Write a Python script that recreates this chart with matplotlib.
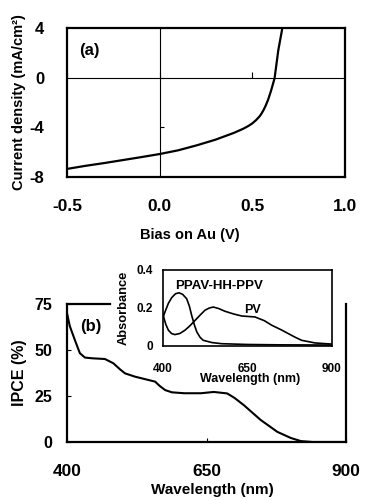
import matplotlib
matplotlib.use("Agg")
import matplotlib.pyplot as plt

plt.rcParams['font.family'] = ['Liberation Sans', 'DejaVu Sans']
plt.rcParams['font.weight'] = 'bold'
plt.rcParams['axes.unicode_minus'] = False

# ---- panel (a): J-V curve ----
jv_bias = [-0.5, -0.4, -0.3, -0.2, -0.1, 0.0, 0.1, 0.2, 0.3, 0.4, 0.45, 0.48, 0.5,
           0.52, 0.54, 0.55, 0.56, 0.57, 0.585, 0.6, 0.62, 0.64, 0.662]
jv_current = [-7.35, -7.1, -6.88, -6.64, -6.4, -6.15, -5.85, -5.45, -5.0, -4.45,
              -4.12, -3.88, -3.68, -3.42, -3.1, -2.88, -2.62, -2.32, -1.78, -1.1,
              -0.05, 2.2, 4.0]
a_xticks = [-0.5, 0.0, 0.5, 1.0]
a_xticklabels = ['-0.5', '0.0', '0.5', '1.0']
a_yticks = [-8, -4, 0, 4]
a_yticklabels = ['-8', '-4', '0', '4']

# ---- panel (b): IPCE ----
ipce_wl = [400, 405, 414, 423, 432, 445, 468, 483, 495, 504, 522, 546, 558, 566,
           576, 588, 610, 640, 663, 687, 700, 717, 747, 777, 801, 819, 840, 900]
ipce_val = [70, 63, 55.5, 48.3, 45.9, 45.5, 45.1, 42.8, 39.5, 37.3, 35.5, 33.7, 32.8,
            30.5, 28.2, 27, 26.5, 26.5, 27.2, 26.4, 24, 20, 12, 5.5, 2.2, 0.5, 0, 0]
b_xticks = [400, 650, 900]
b_yticks = [0, 25, 50, 75]

# ---- inset: absorbance ----
ppav_wl = [400, 406, 416, 426, 437, 447, 458, 470, 478, 485, 493, 500, 510, 519,
           545, 574, 650, 750, 900]
ppav_abs = [0.15, 0.18, 0.225, 0.255, 0.275, 0.28, 0.272, 0.249, 0.21, 0.16, 0.11,
            0.074, 0.045, 0.03, 0.018, 0.012, 0.008, 0.006, 0.005]
pv_wl = [400, 408, 416, 425, 435, 450, 465, 480, 495, 510, 524, 537, 549, 565, 583,
         610, 633, 655, 672, 700, 722, 750, 771, 790, 810, 850, 900]
pv_abs = [0.165, 0.115, 0.083, 0.066, 0.06, 0.066, 0.083, 0.107, 0.135, 0.163, 0.188,
          0.2, 0.205, 0.197, 0.183, 0.168, 0.158, 0.155, 0.153, 0.133, 0.109, 0.085,
          0.065, 0.047, 0.03, 0.016, 0.01]
in_xticks = [400, 650, 900]
in_yticks = [0, 0.2, 0.4]
in_yticklabels = ['0', '0.2', '0.4']

W, H = 365, 500
fig = plt.figure(figsize=(W / 100, H / 100), dpi=100)

def rect(l, t, r, b):
    return [l / W, 1 - b / H, (r - l) / W, (b - t) / H]

# ================= panel (a) =================
ax1 = fig.add_axes(rect(67, 28, 345, 177))
ax1.plot(jv_bias, jv_current, color='black', lw=1.6, zorder=3)
ax1.set_xlim(-0.5, 1.0)
ax1.set_ylim(-8, 4)
ax1.axhline(0, color='black', lw=0.8, zorder=2)
ax1.axvline(0, color='black', lw=0.8, zorder=2)
ax1.plot(a_xticks, [0] * len(a_xticks), ls='none', marker=2, ms=4, mew=0.8, color='black')
ax1.plot([0] * len(a_yticks), a_yticks, ls='none', marker=1, ms=3, mew=0.8, color='black')
for s in ax1.spines.values():
    s.set_linewidth(1.6)
ax1.set_xticks(a_xticks)
ax1.set_xticklabels(a_xticklabels)
ax1.set_yticks(a_yticks)
ax1.set_yticklabels(a_yticklabels)
ax1.tick_params(axis='x', length=0, pad=15.8, labelsize=12.5)
ax1.tick_params(axis='y', length=0, pad=16.5, labelsize=12)
ax1.set_xlabel('Bias on Au (V)', fontsize=10.5, fontweight='bold')
ax1.xaxis.set_label_coords(0.44, -0.342)
ax1.set_ylabel('Current density (mA/cm²)', fontsize=10.5, fontweight='bold')
ax1.yaxis.set_label_coords(-0.146, 0.5)
ax1.text(0.079, 0.846, '(a)', transform=ax1.transAxes, fontsize=12,
         fontweight='bold', ha='center', va='center')

# ================= panel (b) =================
ax2 = fig.add_axes(rect(67, 304, 346, 442))
ax2.plot(ipce_wl, ipce_val, color='black', lw=1.5, zorder=3)
ax2.set_xlim(400, 900)
ax2.set_ylim(0, 75)
for s in ax2.spines.values():
    s.set_linewidth(1.6)
ax2.spines['top'].set_bounds(400, 477)
ax2.set_xticks(b_xticks)
ax2.set_yticks(b_yticks)
ax2.tick_params(direction='in', length=3, width=0.8)
ax2.tick_params(axis='x', pad=15.8, labelsize=12.5)
ax2.tick_params(axis='y', pad=10.3, labelsize=11.5)
ax2.set_xlabel('Wavelength (nm)', fontsize=11, fontweight='bold')
ax2.xaxis.set_label_coords(0.52, -0.297)
ax2.set_ylabel('IPCE (%)', fontsize=11.5, fontweight='bold')
ax2.yaxis.set_label_coords(-0.144, 0.5)
ax2.text(0.086, 0.84, '(b)', transform=ax2.transAxes, fontsize=12,
         fontweight='bold', ha='center', va='center')

# ================= inset =================
ax3 = fig.add_axes(rect(163, 270, 332, 346))
ax3.plot(ppav_wl, ppav_abs, color='black', lw=1.2)
ax3.plot(pv_wl, pv_abs, color='black', lw=1.2)
ax3.set_xlim(400, 900)
ax3.set_ylim(0, 0.4)
for s in ax3.spines.values():
    s.set_linewidth(1.2)
ax3.set_xticks(in_xticks)
ax3.set_yticks(in_yticks)
ax3.set_yticklabels(in_yticklabels)
ax3.tick_params(length=0, labelsize=8.5)
ax3.tick_params(axis='x', pad=12)
ax3.tick_params(axis='y', pad=7)
ax3.set_xlabel('Wavelength (nm)', fontsize=9, fontweight='bold')
ax3.xaxis.set_label_coords(0.515, -0.36)
ax3.set_ylabel('Absorbance', fontsize=9.3, fontweight='bold')
ax3.yaxis.set_label_coords(-0.2, 0.5)
ax3.text(435, 0.316, 'PPAV-HH-PPV', fontsize=9.5, fontweight='bold',
         ha='left', va='center')
ax3.text(665, 0.157, 'PV', fontsize=9, fontweight='bold', ha='center', va='bottom')

fig.savefig('out.png', dpi=100)
